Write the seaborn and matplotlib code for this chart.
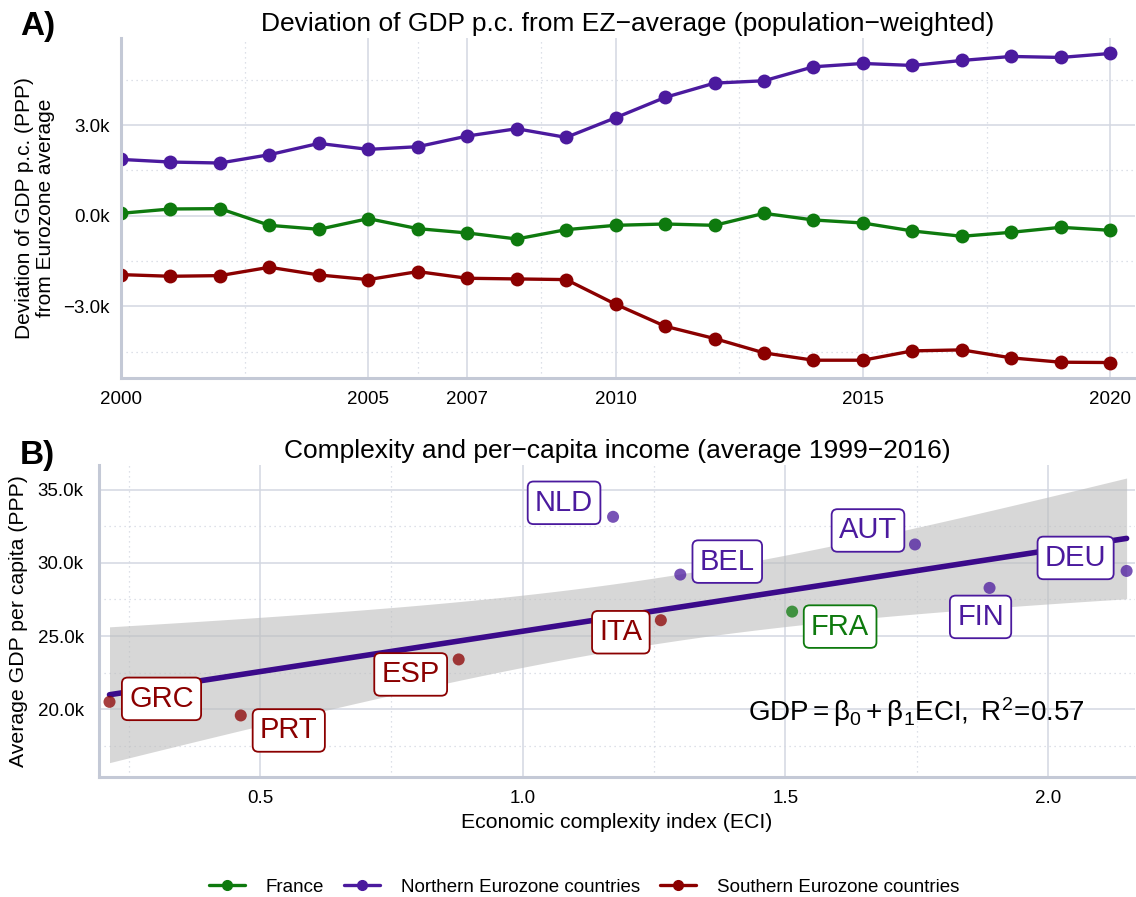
import numpy as np
import pandas as pd
import seaborn as sns
import matplotlib.pyplot as plt
from matplotlib.lines import Line2D
from matplotlib.ticker import FuncFormatter, FixedLocator

# Panel A data: deviation of GDP p.c. from EZ average
years = list(range(2000, 2021))
france = [77, 221, 232, -320, -452, -99, -430, -573, -772, -463, -320,
          -276, -320, 77, -143, -243, -507, -683, -551, -386, -485]
north = [1862, 1775, 1743, 2018, 2392, 2194, 2283, 2636, 2878, 2591, 3242,
         3915, 4389, 4466, 4929, 5039, 4973, 5139, 5271, 5238, 5370]
south = [-1952, -2007, -1985, -1709, -1963, -2117, -1852, -2073, -2095, -2117, -2933,
         -3661, -4069, -4543, -4786, -4786, -4477, -4444, -4709, -4852, -4863]

# Panel B data: complexity vs income
countries = ['GRC', 'PRT', 'ESP', 'NLD', 'BEL', 'ITA', 'FRA', 'AUT', 'FIN', 'DEU']
eci = [0.213, 0.463, 0.878, 1.172, 1.300, 1.263, 1.513, 1.747, 1.889, 2.150]
gdp = [20500, 19570, 23400, 33150, 29200, 26080, 26670, 31260, 28290, 29450]
group = ['South', 'South', 'South', 'North', 'North', 'South', 'France', 'North', 'North', 'North']

groups = ['France', 'North', 'South']
group_names = ['France', 'Northern Eurozone countries', 'Southern Eurozone countries']
colors = {'France': '#0e7a0e', 'North': '#4b1a9e', 'South': '#8b0000'}

# label offsets in pixels (layout, like ggrepel output)
label_offset = {'GRC': (52, 3), 'PRT': (48, -15), 'ESP': (-48, -15), 'NLD': (-49, 14),
                'BEL': (47, 13), 'ITA': (-40, -12), 'FRA': (48, -15), 'AUT': (-47, 14),
                'FIN': (-9, -29), 'DEU': (-51, 13)}

sns.set_theme(style='white')
plt.rcParams['font.family'] = ['Liberation Sans', 'DejaVu Sans']
plt.rcParams['mathtext.fontset'] = 'custom'
plt.rcParams['mathtext.rm'] = 'Liberation Sans'
plt.rcParams['mathtext.it'] = 'Liberation Sans'
plt.rcParams.update({'text.color': 'black', 'axes.labelcolor': 'black',
                     'xtick.color': 'black', 'ytick.color': 'black'})

grid_col = '#d3d7e1'
axis_col = '#c4c9d6'

df_a = pd.DataFrame({'year': years * 3,
                     'value': france + north + south,
                     'group': ['France'] * 21 + ['North'] * 21 + ['South'] * 21})
df_b = pd.DataFrame({'country': countries, 'eci': eci, 'gdp': gdp, 'group': group})

fig = plt.figure(figsize=(11.36, 8.97), dpi=100)
ax1 = fig.add_axes([121 / 1136, 1 - 378 / 897, (1135 - 121) / 1136, (378 - 38) / 897])
ax2 = fig.add_axes([99 / 1136, 1 - 777 / 897, (1135 - 99) / 1136, (777 - 465) / 897])


def style_axes(ax, minor_x, minor_y):
    ax.xaxis.set_minor_locator(FixedLocator(minor_x))
    ax.yaxis.set_minor_locator(FixedLocator(minor_y))
    ax.grid(which='major', color=grid_col, linewidth=1.1)
    ax.grid(which='minor', color=grid_col, linewidth=0.9, linestyle=(0, (1, 3)))
    ax.set_axisbelow(True)
    for s in ['top', 'right']:
        ax.spines[s].set_visible(False)
    for s in ['left', 'bottom']:
        ax.spines[s].set_visible(True)
        ax.spines[s].set_color(axis_col)
        ax.spines[s].set_linewidth(2.2)
    ax.tick_params(which='both', length=0, labelsize=13.5, colors='black')
    ax.tick_params(axis='y', pad=8)
    ax.tick_params(axis='x', pad=9)


def kfmt(v, pos):
    s = f'{v / 1000:.1f}k'
    return s.replace('-', '\u2212')


# Panel A
sns.lineplot(data=df_a, x='year', y='value', hue='group', palette=colors,
             marker='o', markersize=10, markeredgewidth=0, linewidth=2.4,
             legend=False, ax=ax1)
ax1.set_xlim(2000, 2020.5)
ax1.set_ylim(-5375, 5882)
ax1.set_xticks([2000, 2005, 2007, 2010, 2015, 2020])
ax1.set_yticks([-3000, 0, 3000])
ax1.yaxis.set_major_formatter(FuncFormatter(kfmt))
style_axes(ax1, [2002.5, 2006, 2008.5, 2012.5, 2017.5], [-4500, -1500, 1500, 4500])
ax1.set_xlabel('')
ax1.set_ylabel('Deviation of GDP p.c. (PPP)\nfrom Eurozone average', fontsize=15, labelpad=6,
               linespacing=1.15)
ax1.set_title('Deviation of GDP p.c. from EZ\u2212average (population\u2212weighted)',
              fontsize=19, pad=5)

# Panel B: fit and 95% CI (OLS, analytic)
x = np.array(eci)
y = np.array(gdp)
slope, intercept = np.polyfit(x, y, 1)
resid = y - (intercept + slope * x)
n = len(x)
s_err = np.sqrt(np.sum(resid ** 2) / (n - 2))
t_val = 2.306  # t quantile 0.975, df = 8
xs = np.linspace(x.min(), x.max(), 100)
fit = intercept + slope * xs
se = s_err * np.sqrt(1 / n + (xs - x.mean()) ** 2 / np.sum((x - x.mean()) ** 2))
ax2.fill_between(xs, fit - t_val * se, fit + t_val * se, color='#bdbdbd', alpha=0.6,
                 linewidth=0, zorder=2)
ax2.plot(xs, fit, color='#3b0a8a', linewidth=4, zorder=3)

sns.scatterplot(data=df_b, x='eci', y='gdp', hue='group', palette=colors, s=75,
                alpha=0.75, edgecolor='none', legend=False, ax=ax2, zorder=4)

for c, xi, yi, g in zip(countries, eci, gdp, group):
    dx, dy = label_offset[c]
    ax2.annotate(c, (xi, yi), xytext=(dx * 0.72, dy * 0.72), textcoords='offset points',
                 ha='center', va='center', fontsize=21, color=colors[g], zorder=5,
                 bbox=dict(boxstyle='round,pad=0.25,rounding_size=0.2', fc='white',
                           ec=colors[g], lw=1.3))

ax2.text(1.75, 19800,
         r'$\mathrm{GDP} = \mathrm{\beta}_0 + \mathrm{\beta}_1\mathrm{ECI},\ \mathrm{R}^2\!=\!0.57$',
         ha='center', va='center', fontsize=20, zorder=5)

ax2.set_xlim(0.193, 2.166)
ax2.set_ylim(15363, 36692)
ax2.set_xticks([0.5, 1.0, 1.5, 2.0])
ax2.set_yticks([20000, 25000, 30000, 35000])
ax2.yaxis.set_major_formatter(FuncFormatter(kfmt))
style_axes(ax2, [0.25, 0.75, 1.25, 1.75], [17500, 22500, 27500, 32500])
ax2.tick_params(axis='y', pad=11)
ax2.set_xlabel('Economic complexity index (ECI)', fontsize=15.3, labelpad=5)
ax2.set_ylabel('Average GDP per capita (PPP)', fontsize=15.3, labelpad=7)
ax2.set_title('Complexity and per\u2212capita income (average 1999\u22122016)', fontsize=19, pad=5)

fig.text(20 / 1136, 1 - 26 / 897, 'A)', fontsize=24, fontweight='bold', va='center')
fig.text(20 / 1136, 1 - 455 / 897, 'B)', fontsize=24, fontweight='bold', va='center')

handles = [Line2D([0], [0], color=colors[g], marker='o', markersize=7, linewidth=2.4)
           for g in groups]
fig.legend(handles, group_names, loc='center', bbox_to_anchor=(584 / 1136, 1 - 887 / 897),
           ncol=3, frameon=False, fontsize=13.5, handlelength=1.9, handletextpad=1.1,
           columnspacing=1.1)

fig.savefig('out.png', dpi=100)
